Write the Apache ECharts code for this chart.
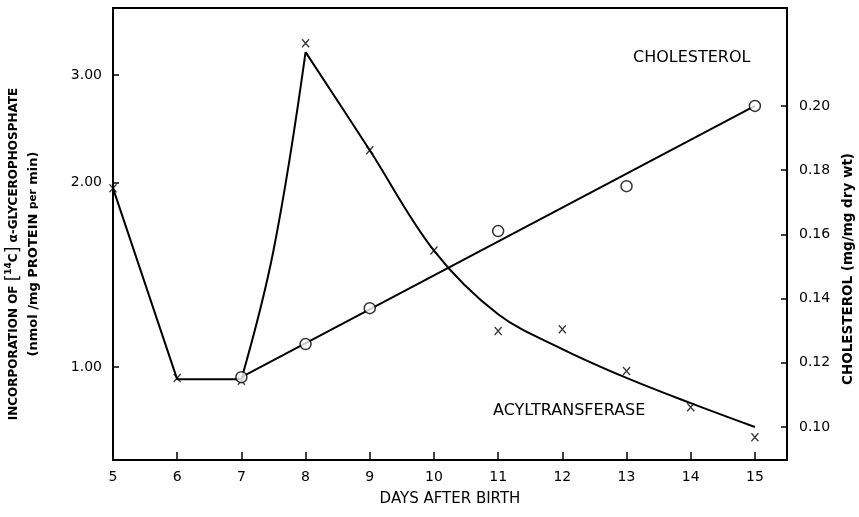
<!DOCTYPE html>
<html>
<head>
<meta charset="utf-8">
<script src="https://cdn.jsdelivr.net/npm/echarts@6/dist/echarts.min.js"></script>
<style>
  html, body { margin: 0; padding: 0; background: #fff; }
  #chart { width: 859px; height: 517px; }
</style>
</head>
<body>
<div id="chart"></div>
<script>
// measured points (x marks), left axis
const days = [5, 6, 7, 8, 9, 10, 11, 12, 13, 14, 15];
const acylMeasured = [1.96, 0.96, 0.95, 3.38, 2.26, 1.55, 1.145, 1.153, 0.985, 0.86, 0.768];
// hand drawn acyltransferase curve in three pieces
const acylDropDays = [5, 6, 7];
const acylDropValues = [1.96, 0.955, 0.955];
const acylRiseDays = [7, 7.5, 8];
const acylRiseValues = [0.955, 1.55, 3.27];
const acylFallDays = [8, 9, 10, 11, 12, 13, 14, 15];
const acylFallValues = [3.27, 2.26, 1.55, 1.22, 1.07, 0.96, 0.873, 0.798];
// cholesterol (circles), right axis
const cholDays = [7, 8, 9, 11, 13, 15];
const cholValues = [0.1155, 0.1258, 0.137, 0.161, 0.175, 0.2];
const cholFitDays = [7, 15];
const cholFitValues = [0.1155, 0.2];
// tick labels
const leftTicks = [1, 2, 3];
const rightTicks = [0.1, 0.12, 0.14, 0.16, 0.18, 0.2];

const pairs = (xs, ys) => xs.map((x, i) => [x, ys[i]]);
const font = "DejaVu Sans";
const ink = "#000";

const chart = echarts.init(document.getElementById("chart"));

const curve = (data, smooth) => ({
  type: "line",
  yAxisIndex: 0,
  data: data,
  smooth: smooth,
  showSymbol: false,
  lineStyle: { color: ink, width: 2 },
  z: 2,
});

const option = {
  backgroundColor: "#fff",
  animation: false,
  grid: {
    left: 113,
    right: 72,
    top: 8,
    bottom: 57,
    outerBoundsMode: "none",
    show: true,
    borderColor: ink,
    borderWidth: 2,
  },
  xAxis: {
    type: "value",
    min: 5,
    max: 15.5,
    interval: 1,
    axisLine: { lineStyle: { color: ink, width: 2 } },
    axisTick: { inside: true, length: 8, lineStyle: { color: ink, width: 1.5 } },
    axisLabel: {
      color: ink,
      fontFamily: font,
      fontSize: 14,
      margin: 10,
      formatter: (v) => (Number.isInteger(v) ? String(v) : ""),
    },
    splitLine: { show: false },
    name: "DAYS AFTER BIRTH",
    nameLocation: "middle",
    nameGap: 32,
    nameTextStyle: { color: ink, fontFamily: font, fontSize: 15 },
  },
  yAxis: [
    {
      type: "log",
      logBase: 10,
      min: 0.705,
      max: 3.86,
      axisLine: { show: true, lineStyle: { color: ink, width: 2 } },
      axisTick: { inside: true, length: 6, customValues: leftTicks, lineStyle: { color: ink, width: 1.5 } },
      minorTick: { show: false },
      axisLabel: {
        color: ink,
        fontFamily: font,
        fontSize: 14,
        margin: 11,
        customValues: leftTicks,
        formatter: (v) => Number(v).toFixed(2),
      },
      splitLine: { show: false },
      name:
        "{t|INCORPORATION OF }{br|[}{sup|14}{t|C}{br|]}{t| α-GLYCEROPHOSPHATE}\n" +
        "{s|(nmol /mg PROTEIN }{xs|per}{s| min)}",
      nameLocation: "middle",
      nameRotate: 90,
      nameGap: 70,
      nameTextStyle: {
        color: ink,
        fontFamily: font,
        padding: [0, 40, 0, 0],
        rich: {
          t: { fontSize: 12, fontWeight: "bold", fontFamily: font, lineHeight: 20 },
          br: { fontSize: 17, fontFamily: font, lineHeight: 20 },
          sup: { fontSize: 9, fontWeight: "bold", fontFamily: font, verticalAlign: "top", lineHeight: 20 },
          s: { fontSize: 13, fontWeight: "bold", fontFamily: font, lineHeight: 19 },
          xs: { fontSize: 10.5, fontWeight: "bold", fontFamily: font, lineHeight: 19 },
        },
      },
    },
    {
      type: "value",
      min: 0.0897,
      max: 0.2305,
      position: "right",
      axisLine: { show: true, lineStyle: { color: ink, width: 2 } },
      axisTick: { inside: true, length: 6, customValues: rightTicks, lineStyle: { color: ink, width: 1.5 } },
      axisLabel: {
        color: ink,
        fontFamily: font,
        fontSize: 14,
        margin: 12,
        customValues: rightTicks,
        formatter: (v) => Number(v).toFixed(2),
      },
      splitLine: { show: false },
      name: "CHOLESTEROL (mg/mg dry wt)",
      nameLocation: "middle",
      nameRotate: 90,
      nameGap: 53,
      nameTextStyle: {
        color: ink,
        fontFamily: font,
        fontSize: 13.5,
        fontWeight: "bold",
        verticalAlign: "top",
        padding: [0, 70, 0, 0],
      },
    },
  ],
  graphic: [
    { type: "text", left: 633, top: 50, style: { text: "CHOLESTEROL", fill: ink, font: "16px " + font } },
    { type: "text", left: 493, top: 403, style: { text: "ACYLTRANSFERASE", fill: ink, font: "16px " + font } },
  ],
  series: [
    curve(pairs(acylDropDays, acylDropValues), false),
    curve(pairs(acylRiseDays, acylRiseValues), 0.4),
    curve(pairs(acylFallDays, acylFallValues), 0.35),
    {
      type: "line",
      yAxisIndex: 1,
      data: pairs(cholFitDays, cholFitValues),
      showSymbol: false,
      lineStyle: { color: ink, width: 2 },
      z: 2,
    },
    {
      type: "scatter",
      yAxisIndex: 0,
      data: pairs(days, acylMeasured),
      symbol: "path://M0,0L10,12M10,0L0,12",
      symbolSize: [7, 8],
      itemStyle: { color: "transparent", borderColor: ink, borderWidth: 1.4 },
      z: 4,
    },
    {
      type: "scatter",
      yAxisIndex: 1,
      data: pairs(cholDays, cholValues),
      symbol: "circle",
      symbolSize: 11,
      itemStyle: { color: "#fff", borderColor: ink, borderWidth: 1.5 },
      z: 5,
    },
  ],
};

chart.setOption(option);
</script>
</body>
</html>
